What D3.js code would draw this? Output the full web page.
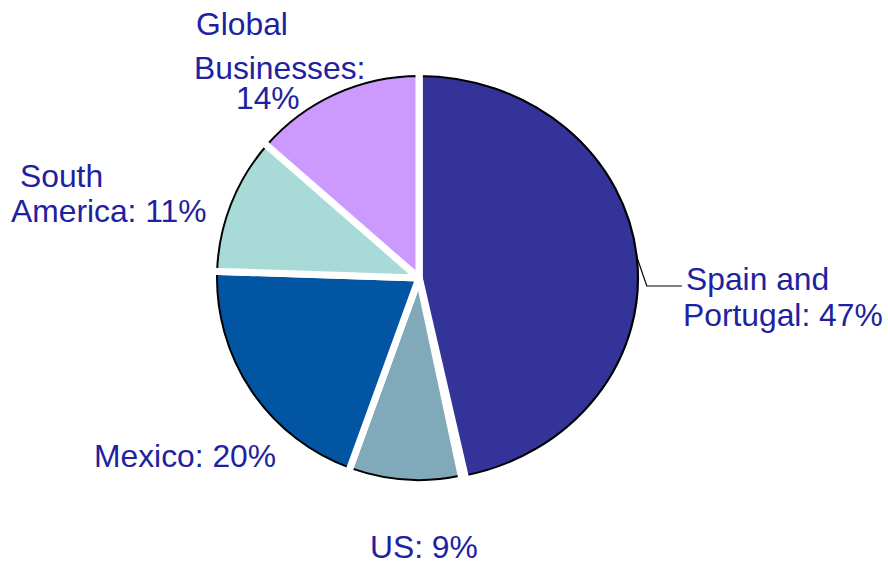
<!DOCTYPE html>
<html>
<head>
<meta charset="utf-8">
<script src="https://cdn.jsdelivr.net/npm/d3@7"></script>
<style>
    html, body { margin: 0; padding: 0; background: #fff; }
    svg { display: block; }
    .label { font-family: "Liberation Sans", Arial, sans-serif; font-size: 31.8px; fill: #1e22a0; }
</style>
</head>
<body>
<div id="chart"></div>
<script>
// slice order, clockwise from 12 o'clock
var categories = ['Spain and Portugal', 'US', 'Mexico', 'South America', 'Global Businesses'];
var shares = [46.7, 8.9, 20.0, 10.9, 13.6];
var labelLines = [
    ['Spain and', 'Portugal: 47%'],
    ['US: 9%'],
    ['Mexico: 20%'],
    ['South', 'America: 11%'],
    ['Global', 'Businesses:', '14%']
];
var sliceColors = ['#333399', '#80a9ba', '#0255a3', '#a8dad7', '#cc99ff'];

(function(d3) {
    'use strict';

    var settings = {
        width: 888,
        height: 563,
        cx: 419,
        cy: 278,
        radius: 202,
        gap: 7,
        stretch: 1.084   // the big slice is drawn a bit wider than the rest
    };

    // where each label line sits (x of text start, baseline y)
    var labelPos = [
        [[686, 290], [683, 326]],
        [[370, 558]],
        [[94, 467]],
        [[20, 187], [11, 222]],
        [[196, 35], [194, 79], [236, 109]]
    ];

    var svg = d3.select('#chart').append('svg')
        .attr('width', settings.width)
        .attr('height', settings.height);

    var pie = d3.pie()
        .sort(null)
        .value(function(d) { return d; });

    var arc = d3.arc()
        .innerRadius(0)
        .outerRadius(settings.radius);

    var arcs = pie(shares);

    var color = d3.scaleOrdinal()
        .domain(categories)
        .range(sliceColors);

    function frame(i) {
        var t = 'translate(' + settings.cx + ',' + settings.cy + ')';
        if (i === 0) t += ' scale(' + settings.stretch + ',1)';
        return t;
    }

    var slices = svg.selectAll('g.slice')
        .data(arcs)
        .enter()
        .append('g')
        .attr('class', 'slice')
        .attr('transform', function(d, i) { return frame(i); });

    slices.append('path')
        .attr('d', arc)
        .attr('fill', function(d, i) { return color(categories[i]); })
        .attr('stroke', '#000')
        .attr('stroke-width', 2);

    // white separators along every slice edge, drawn in that slice's frame
    function edge(a) {
        var r = settings.radius + 6;
        return [0, 0, r * Math.sin(a), -r * Math.cos(a)];
    }

    slices.each(function(d) {
        var g = d3.select(this);
        [d.startAngle, d.endAngle].forEach(function(a) {
            var e = edge(a);
            g.append('line')
                .attr('x1', e[0]).attr('y1', e[1])
                .attr('x2', e[2]).attr('y2', e[3])
                .attr('stroke', '#fff')
                .attr('stroke-width', settings.gap)
                .attr('stroke-linecap', 'round');
        });
    });

    // leader line for the big slice
    var mid = (arcs[0].startAngle + arcs[0].endAngle) / 2;
    var sx = settings.cx + settings.stretch * settings.radius * Math.sin(mid);
    var sy = settings.cy - settings.radius * Math.cos(mid);
    var ly = labelPos[0][0][1] - 4;
    svg.append('polyline')
        .attr('points', [[sx, sy], [sx + 10, ly], [labelPos[0][0][0] - 4, ly]].join(' '))
        .attr('fill', 'none')
        .attr('stroke', '#000')
        .attr('stroke-width', 1.2);

    // labels
    labelLines.forEach(function(lines, i) {
        lines.forEach(function(txt, j) {
            svg.append('text')
                .attr('class', 'label')
                .attr('x', labelPos[i][j][0])
                .attr('y', labelPos[i][j][1])
                .text(txt);
        });
    });

})(window.d3);
</script>
</body>
</html>
